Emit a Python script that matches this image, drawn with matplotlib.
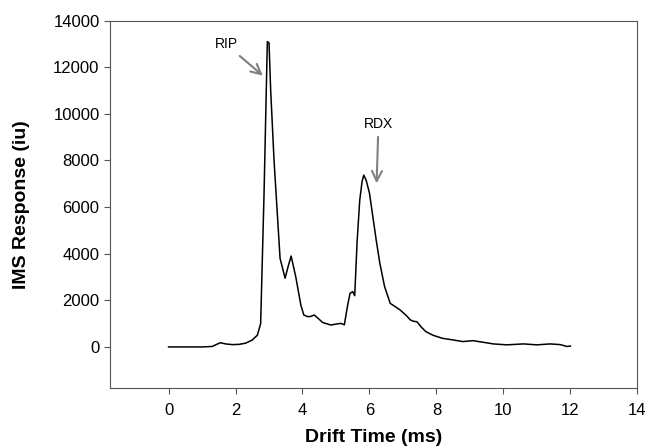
import matplotlib.pyplot as plt

plt.rcParams['font.family'] = ['Liberation Sans', 'DejaVu Sans']

# drift time (ms) and IMS response (iu)
drift = [0.0, 0.5, 1.0, 1.3, 1.45, 1.55, 1.7, 1.9, 2.1, 2.3, 2.5, 2.65, 2.75,
         2.85, 2.95, 3.0, 3.05, 3.15, 3.33, 3.48, 3.58, 3.66, 3.8, 3.95, 4.04,
         4.15, 4.25, 4.35, 4.45, 4.6, 4.85, 5.0, 5.15, 5.25, 5.35, 5.42, 5.5,
         5.56, 5.63, 5.71, 5.78, 5.83, 5.9, 6.0, 6.1, 6.2, 6.31, 6.45, 6.62,
         6.8, 6.92, 7.1, 7.22, 7.32, 7.42, 7.55, 7.68, 7.9, 8.18, 8.5, 8.79,
         9.09, 9.4, 9.7, 10.1, 10.6, 11.0, 11.4, 11.7, 11.9, 12.0]
response = [0, 0, 0, 20, 120, 180, 130, 100, 110, 160, 300, 500, 1000,
            6500, 13100, 13050, 11000, 8000, 3800, 2950, 3500, 3900, 3000, 1800, 1370,
            1300, 1310, 1370, 1250, 1050, 940, 980, 1010, 950, 1800, 2300, 2370,
            2200, 4500, 6300, 7100, 7370, 7160, 6600, 5600, 4600, 3590, 2600, 1870,
            1700, 1580, 1350, 1160, 1100, 1080, 850, 660, 500, 370, 300, 230,
            270, 200, 130, 90, 130, 90, 130, 100, 20, 40]

fig, ax = plt.subplots(figsize=(6.47, 4.48), dpi=100)
ax.plot(drift, response, color='black', linewidth=1.1)

ax.set_xlim(-1.75, 14)
ax.set_ylim(-1760, 14000)
ax.set_xticks(range(0, 15, 2))
ax.set_yticks(range(0, 14001, 2000))
ax.tick_params(labelsize=12, direction='out', length=4, color='#555555')
ax.tick_params(axis='x', pad=7)
for sp in ax.spines.values():
    sp.set_color('#555555')

ax.set_xlabel('Drift Time (ms)', fontsize=14, fontweight='bold', labelpad=8)
ax.set_ylabel('IMS Response (iu)', fontsize=14, fontweight='bold', labelpad=17)

arrow = dict(arrowstyle='->', color='#808080', lw=1.5, mutation_scale=18)
ax.annotate('RIP', xy=(2.88, 11560), xytext=(1.72, 12980),
            ha='center', va='center', fontsize=10, arrowprops=arrow)
ax.annotate('RDX', xy=(6.21, 6900), xytext=(6.27, 9550),
            ha='center', va='center', fontsize=10, arrowprops=arrow)

fig.subplots_adjust(left=0.17, right=0.985, top=0.954, bottom=0.134)
fig.savefig('out.png', dpi=100)
